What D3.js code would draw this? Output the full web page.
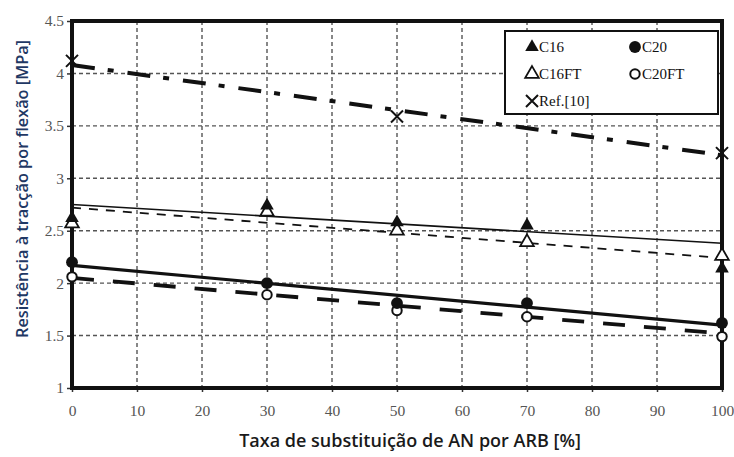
<!DOCTYPE html>
<html>
<head>
<meta charset="utf-8">
<script src="https://cdn.jsdelivr.net/npm/d3@7"></script>
<style>
  html, body { margin: 0; padding: 0; background: #fff; }
  svg { display: block; }
</style>
</head>
<body>
<svg id="chart" width="734" height="457"></svg>
<script>
// Replacement rate of natural aggregate (AN) by recycled aggregate (ARB), %
const xValues = [0, 30, 50, 70, 100];
const xTicks = [0, 10, 20, 30, 40, 50, 60, 70, 80, 90, 100];
const yTicks = [1, 1.5, 2, 2.5, 3, 3.5, 4, 4.5];

// Flexural tensile strength, MPa
const c16 = [2.62, 2.74, 2.58, 2.55, 2.14];
const c16ft = [2.57, 2.68, 2.50, 2.39, 2.26];
const c20 = [2.20, 2.00, 1.81, 1.81, 1.62];
const c20ft = [2.06, 1.89, 1.74, 1.68, 1.49];
const refX = [0, 50, 100];
const ref = [4.12, 3.59, 3.24];

// Linear trends: value at 0 % and at 100 %
const trendX = [0, 100];
const c16Trend = [2.75, 2.38];
const c16ftTrend = [2.72, 2.24];
const c20Trend = [2.17, 1.60];
const c20ftTrend = [2.05, 1.52];
const refTrend = [4.08, 3.22];

const legendLabels = ["C16", "C20", "C16FT", "C20FT", "Ref.[10]"];

const svg = d3.select("#chart");
const m = { left: 72, right: 722, top: 21, bottom: 388 };

const x = d3.scaleLinear().domain([0, 100]).range([m.left, m.right]);
const y = d3.scaleLinear().domain([1, 4.5]).range([m.bottom, m.top]);

// grid
const grid = svg.append("g").attr("stroke", "#555").attr("stroke-width", 1.4)
  .attr("stroke-dasharray", "4,3");
grid.selectAll("line.v").data(xTicks.slice(1, -1)).join("line")
  .attr("x1", d => x(d)).attr("x2", d => x(d))
  .attr("y1", m.top).attr("y2", m.bottom);
grid.selectAll("line.h").data(yTicks.slice(1, -1)).join("line")
  .attr("class", "h")
  .attr("x1", m.left).attr("x2", m.right)
  .attr("y1", d => y(d)).attr("y2", d => y(d));

// axes
const yAxis = d3.axisLeft(y).tickValues(yTicks).tickSize(5).tickPadding(3)
  .tickFormat(d => String(d));
const xAxis = d3.axisBottom(x).tickValues(xTicks).tickSize(4).tickPadding(13)
  .tickFormat(d => String(d));

const gy = svg.append("g").attr("transform", `translate(${m.left},0)`).call(yAxis);
const gx = svg.append("g").attr("transform", `translate(0,${m.bottom})`).call(xAxis);
[gy, gx].forEach(g => {
  g.select(".domain").remove();
  g.selectAll(".tick line").attr("stroke", "#333").attr("stroke-width", 1.5);
  g.selectAll(".tick text")
    .attr("font-family", "'Liberation Serif', 'DejaVu Serif', serif")
    .attr("font-size", 15.5).attr("fill", "#555");
});

// trend lines
const line = d3.line().x(d => x(d[0])).y(d => y(d[1]));
const pairs = (xs, ys) => xs.map((v, i) => [v, ys[i]]);

function trend(vals, width, dash) {
  svg.append("path").datum(pairs(trendX, vals))
    .attr("d", line).attr("fill", "none").attr("stroke", "#111")
    .attr("stroke-width", width)
    .attr("stroke-dasharray", dash || null);
}
trend(refTrend, 4, "23,13,6,14");
trend(c16Trend, 1.6);
trend(c16ftTrend, 1.8, "9,8");
trend(c20Trend, 3.2);
trend(c20ftTrend, 3.8, "22,19");

// frame
svg.append("rect").attr("x", m.left).attr("y", m.top)
  .attr("width", m.right - m.left).attr("height", m.bottom - m.top)
  .attr("fill", "none").attr("stroke", "#111").attr("stroke-width", 4);

// markers
const tri = d3.symbol().type(d3.symbolTriangle).size(80);
const circ = d3.symbol().type(d3.symbolCircle).size(110);
const circOpen = d3.symbol().type(d3.symbolCircle).size(70);

function marker(g, kind, cx, cy) {
  if (kind === "triFill") {
    g.append("path").attr("d", tri()).attr("transform", `translate(${cx},${cy})`)
      .attr("fill", "#111");
  } else if (kind === "triOpen") {
    g.append("path").attr("d", tri()).attr("transform", `translate(${cx},${cy})`)
      .attr("fill", "#fff").attr("stroke", "#111").attr("stroke-width", 1.8);
  } else if (kind === "circFill") {
    g.append("path").attr("d", circ()).attr("transform", `translate(${cx},${cy})`)
      .attr("fill", "#111");
  } else if (kind === "circOpen") {
    g.append("path").attr("d", circOpen()).attr("transform", `translate(${cx},${cy})`)
      .attr("fill", "#fff").attr("stroke", "#111").attr("stroke-width", 2);
  } else if (kind === "cross") {
    const s = 6;
    g.append("path").attr("d", `M${cx - s},${cy - s}L${cx + s},${cy + s}M${cx - s},${cy + s}L${cx + s},${cy - s}`)
      .attr("stroke", "#111").attr("stroke-width", 2).attr("fill", "none");
  }
}

const marks = svg.append("g");
xValues.forEach((v, i) => marker(marks, "triOpen", x(v), y(c16ft[i])));
xValues.forEach((v, i) => marker(marks, "triFill", x(v), y(c16[i])));
xValues.forEach((v, i) => marker(marks, "circOpen", x(v), y(c20ft[i])));
xValues.forEach((v, i) => marker(marks, "circFill", x(v), y(c20[i])));
refX.forEach((v, i) => marker(marks, "cross", x(v), y(ref[i])));

// legend
const lg = svg.append("g");
lg.append("rect").attr("x", 505).attr("y", 31).attr("width", 213).attr("height", 83)
  .attr("fill", "#fff").attr("stroke", "#111").attr("stroke-width", 2);
const legendKinds = ["triFill", "circFill", "triOpen", "circOpen", "cross"];
const legendPos = [[532, 47], [635, 47], [532, 74], [635, 74], [532, 101]];
legendLabels.forEach((lab, i) => {
  const [lx, ly] = legendPos[i];
  marker(lg, legendKinds[i], lx, ly);
  lg.append("text").attr("x", lx + 7).attr("y", ly + 5)
    .attr("font-family", "'Liberation Serif', 'DejaVu Serif', serif")
    .attr("font-size", 15).attr("fill", "#111").text(lab);
});

// axis titles
svg.append("text")
  .attr("transform", `translate(28,189) rotate(-90)`)
  .attr("text-anchor", "middle")
  .attr("font-family", "'Open Sans', sans-serif").attr("font-weight", 600)
  .attr("font-size", 16.3).attr("fill", "#1f3864")
  .text("Resistência à tracção por flexão [MPa]");
svg.append("text")
  .attr("x", 410).attr("y", 447).attr("text-anchor", "middle")
  .attr("font-family", "'Open Sans', sans-serif").attr("font-weight", 600)
  .attr("font-size", 18).attr("fill", "#1a1a1a")
  .text("Taxa de substituição de AN por ARB [%]");
</script>
</body>
</html>
